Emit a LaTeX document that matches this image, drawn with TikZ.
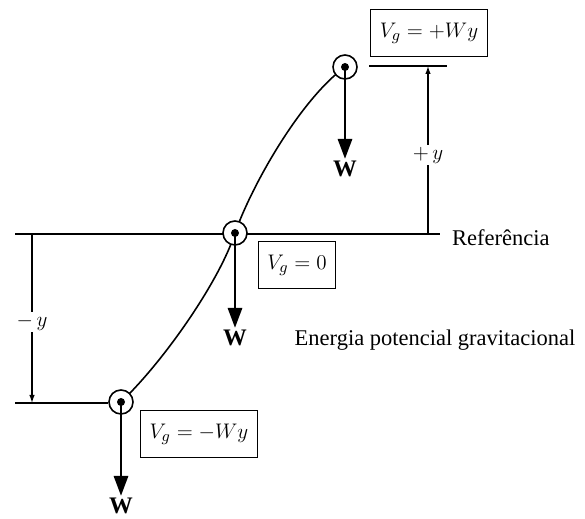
\documentclass[tikz,border=0pt]{standalone}
\usepackage{fontspec}
\setmainfont{Liberation Serif}
\usetikzlibrary{arrows.meta,positioning}
\tikzset{
    particle/.style={circle, draw, line width=0.9pt, fill=white, minimum size=4.8mm, inner sep=0pt},
    dot/.style={circle, fill=black, minimum size=1.6mm, inner sep=0pt},
    force/.style={line width=1.7pt, -{Triangle[length=4mm,width=2.8mm]}},
    wlabel/.style={font=\fontsize{13.5}{15}\selectfont\bfseries, inner sep=1pt},
    vbox/.style={draw, line width=0.6pt, minimum height=0.95cm, inner xsep=1.8mm, font=\fontsize{13}{15}\selectfont},
    dimline/.style={line width=0.7pt},
    dimarrow/.style={line width=0.7pt, -{Latex[length=1.6mm,width=1.1mm]}},
    txt/.style={font=\fontsize{12.8}{15}\selectfont, inner sep=1pt}
}
\begin{document}
\begin{tikzpicture}[x=0.02cm,y=-0.02cm]
    \useasboundingbox (0,0) rectangle (585,519);
    % particle centres
    \coordinate (cb) at (121,402);
    \coordinate (cm) at (235,233);
    \coordinate (ct) at (345,67);
    % reference line
    \coordinate (r0) at (15,234);
    \coordinate (r1) at (440,234);
    \draw[dimline] (r0) -- (r1);
    \node[txt, anchor=west] (ref) at (450,238) {Referência};
    % path of the particle
    \draw[line width=0.9pt] (cb) .. controls (165,360) and (220,280) .. (cm)
        .. controls (252,185) and (300,100) .. (ct);
    % +y dimension
    \coordinate (t0) at (369,66);
    \coordinate (t1) at (447,66);
    \draw[dimline] (t0) -- (t1);
    \node[txt] (py) at (428,155) {$+\,y$};
    \draw[dimline] (428,234) -- (py.south);
    \draw[dimarrow] (py.north) -- (428,66);
    % -y dimension
    \coordinate (b0) at (15,403);
    \coordinate (b1) at (108,403);
    \draw[dimline] (b0) -- (b1);
    \node[txt] (my) at (32,322) {$-\,y$};
    \draw[dimline] (32,234) -- (my.north);
    \draw[dimarrow] (my.south) -- (32,403);
    % particles
    \node[particle] (pt) at (ct) {};
    \node[particle] (pm) at (cm) {};
    \node[particle] (pb) at (cb) {};
    \node[dot] at (ct) {};
    \node[dot] at (cm) {};
    \node[dot] at (cb) {};
    % weights
    \node[wlabel] (wt) at (345,169) {W};
    \node[wlabel] (wm) at (235,338) {W};
    \node[wlabel] (wb) at (121,506) {W};
    \draw[force] (pt.center) -- (wt.north);
    \draw[force] (pm.center) -- (wm.north);
    \draw[force] (pb.center) -- (wb.north);
    % potential energy boxes
    \node[vbox] (vt) at (429,33) {$V_g = +Wy$};
    \node[vbox] (vm) at (297,265) {$V_g = 0$};
    \node[vbox] (vb) at (199,434) {$V_g = -Wy$};
    \node[txt] (title) at (435,340) {Energia potencial gravitacional};
\end{tikzpicture}
\end{document}
